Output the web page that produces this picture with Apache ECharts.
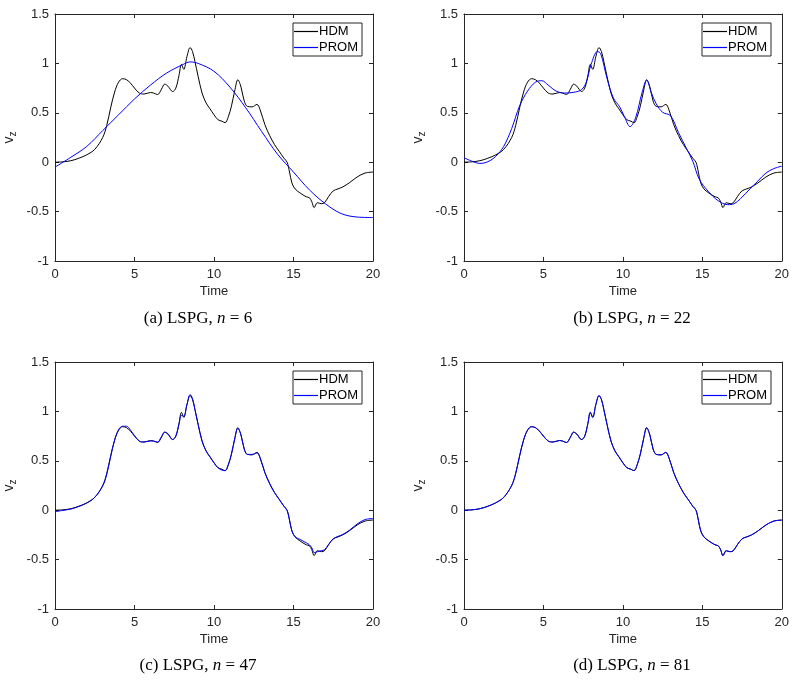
<!DOCTYPE html>
<html>
<head>
<meta charset="utf-8">
<script src="https://cdn.jsdelivr.net/npm/echarts@6/dist/echarts.min.js"></script>
<style>
html,body{margin:0;padding:0;background:#fff;}
#chart{width:792px;height:682px;}
</style>
</head>
<body>
<div id="chart"></div>
<script>
// ---- data ----
const xTicks = [0, 5, 10, 15, 20];
const yTicks = [-1, -0.5, 0, 0.5, 1, 1.5];
const seriesNames = ['HDM', 'PROM'];
const captionLetters = ['(a)', '(b)', '(c)', '(d)'];
const captionN = [6, 22, 47, 81];

// HDM reference trajectory (same in every panel)
const hdmTime = [0, 0.5, 1.0, 1.5, 2.0, 2.5, 3.0, 3.25, 3.5, 3.75, 4.0, 4.25, 4.5, 4.75, 5.0, 5.3, 5.6, 6.0, 6.2, 6.45, 6.7, 6.9, 7.1, 7.4, 7.6, 7.8, 7.95, 8.1, 8.3, 8.5, 8.65, 8.8, 9.0, 9.25, 9.5, 9.75, 10.0, 10.25, 10.5, 10.7, 10.9, 11.1, 11.3, 11.5, 11.7, 11.9, 12.1, 12.4, 12.7, 12.9, 13.2, 13.5, 13.8, 14.1, 14.4, 14.6, 14.75, 14.9, 15.1, 15.4, 15.8, 16.0, 16.15, 16.3, 16.5, 16.75, 16.95, 17.2, 17.5, 17.8, 18.1, 18.5, 19.0, 19.5, 20.0];
const hdmValues = [0, 0.004, 0.015, 0.04, 0.075, 0.13, 0.25, 0.37, 0.55, 0.71, 0.81, 0.845, 0.835, 0.80, 0.75, 0.70, 0.69, 0.705, 0.70, 0.685, 0.74, 0.79, 0.77, 0.715, 0.75, 0.88, 0.99, 0.94, 1.07, 1.16, 1.12, 1.02, 0.87, 0.70, 0.60, 0.54, 0.48, 0.43, 0.415, 0.40, 0.46, 0.57, 0.72, 0.835, 0.76, 0.62, 0.565, 0.56, 0.585, 0.53, 0.38, 0.27, 0.18, 0.11, 0.04, 0.0, -0.10, -0.21, -0.27, -0.31, -0.35, -0.36, -0.40, -0.46, -0.41, -0.42, -0.41, -0.35, -0.29, -0.27, -0.25, -0.21, -0.15, -0.11, -0.10];

// PROM, n = 6
const promATime = [0, 1, 2, 3, 4, 5, 6, 7, 8, 8.5, 9, 10, 11, 12, 13, 14, 15, 16, 17, 18, 19, 20];
const promAValues = [-0.05, 0.05, 0.16, 0.32, 0.48, 0.64, 0.78, 0.90, 0.985, 1.015, 1.0, 0.92, 0.76, 0.55, 0.31, 0.08, -0.10, -0.28, -0.42, -0.52, -0.555, -0.56];

// PROM, n = 22
const promBTime = [0, 0.5, 1.0, 1.5, 2.0, 2.5, 3.0, 3.5, 4.0, 4.5, 4.9, 5.3, 5.8, 6.35, 7.0, 7.4, 7.7, 8.0, 8.4, 8.6, 9.0, 9.4, 9.8, 10.1, 10.45, 10.8, 11.2, 11.5, 11.8, 12.1, 12.5, 13.0, 13.5, 14.0, 14.4, 14.8, 15.4, 16.0, 16.6, 17.0, 17.4, 18.0, 18.5, 19.0, 19.5, 20.0];
const promBValues = [0.045, 0.01, -0.012, 0.005, 0.06, 0.16, 0.34, 0.57, 0.72, 0.81, 0.825, 0.78, 0.72, 0.70, 0.71, 0.735, 0.81, 0.99, 1.12, 1.10, 0.85, 0.65, 0.56, 0.46, 0.36, 0.45, 0.70, 0.83, 0.70, 0.59, 0.505, 0.47, 0.30, 0.14, 0.01, -0.17, -0.30, -0.39, -0.43, -0.42, -0.37, -0.27, -0.19, -0.11, -0.065, -0.04];

// PROM, n = 47
const promCTime = hdmTime;
const promCValues = [-0.015, -0.002, 0.012, 0.038, 0.072, 0.13, 0.245, 0.36, 0.54, 0.71, 0.815, 0.85, 0.85, 0.81, 0.755, 0.70, 0.69, 0.70, 0.70, 0.69, 0.745, 0.79, 0.775, 0.715, 0.75, 0.87, 0.96, 0.95, 1.07, 1.17, 1.13, 1.02, 0.87, 0.70, 0.60, 0.54, 0.48, 0.43, 0.405, 0.40, 0.46, 0.57, 0.72, 0.83, 0.76, 0.62, 0.565, 0.565, 0.58, 0.53, 0.38, 0.27, 0.18, 0.11, 0.04, -0.005, -0.10, -0.21, -0.27, -0.295, -0.33, -0.35, -0.38, -0.43, -0.42, -0.41, -0.40, -0.35, -0.29, -0.265, -0.245, -0.205, -0.14, -0.095, -0.085];

// PROM, n = 81
const promDTime = hdmTime;
const promDValues = [0, 0.004, 0.015, 0.04, 0.075, 0.13, 0.25, 0.37, 0.55, 0.71, 0.81, 0.845, 0.835, 0.80, 0.75, 0.70, 0.69, 0.705, 0.70, 0.685, 0.74, 0.79, 0.77, 0.715, 0.75, 0.88, 0.99, 0.94, 1.07, 1.16, 1.12, 1.02, 0.87, 0.70, 0.60, 0.54, 0.48, 0.43, 0.415, 0.40, 0.46, 0.57, 0.72, 0.835, 0.76, 0.62, 0.565, 0.56, 0.585, 0.53, 0.38, 0.27, 0.18, 0.11, 0.04, 0.0, -0.10, -0.21, -0.27, -0.31, -0.35, -0.36, -0.40, -0.46, -0.41, -0.42, -0.41, -0.35, -0.29, -0.27, -0.25, -0.21, -0.15, -0.11, -0.10];

const promTimes = [promATime, promBTime, promCTime, promDTime];
const promValues = [promAValues, promBValues, promCValues, promDValues];

// ---- layout ----
const grids = [
  {left: 55, top: 14, width: 318, height: 247},
  {left: 464, top: 14, width: 318, height: 247},
  {left: 55, top: 362, width: 318, height: 247},
  {left: 464, top: 362, width: 318, height: 247}
];
const legendPos = [
  {left: 293, top: 23}, {left: 702, top: 23},
  {left: 293, top: 371}, {left: 702, top: 371}
];
const captionPos = [[198, 319], [632, 319], [198, 666], [632, 666]];

const AX = '#262626';
const FONT = '"Liberation Sans", Arial, Helvetica, sans-serif';

function zip(t, v) { return t.map((x, i) => [x, v[i]]); }

const xAxes = [], yAxes = [], series = [], legends = [], graphics = [];
grids.forEach((g, i) => {
  const common = {
    gridIndex: i, type: 'value',
    axisLine: {show: true, onZero: false, lineStyle: {color: AX, width: 1}},
    axisTick: {show: true, inside: true, length: 4, lineStyle: {color: AX, width: 1}},
    splitLine: {show: false}
  };
  xAxes.push(Object.assign({}, common, {
    position: 'bottom', min: xTicks[0], max: xTicks[xTicks.length - 1], interval: 5,
    axisLabel: {show: true, color: AX, fontSize: 13, fontFamily: FONT, margin: 7},
    name: 'Time', nameLocation: 'middle', nameGap: 24,
    nameTextStyle: {color: AX, fontSize: 13, fontFamily: FONT}
  }));
  xAxes.push(Object.assign({}, common, {
    position: 'top', min: xTicks[0], max: xTicks[xTicks.length - 1], interval: 5,
    axisLabel: {show: false}
  }));
  yAxes.push(Object.assign({}, common, {
    position: 'left', min: yTicks[0], max: yTicks[yTicks.length - 1], interval: 0.5,
    axisLabel: {show: true, color: AX, fontSize: 13, fontFamily: FONT, margin: 6},
    name: '{v|v}{z|z}', nameLocation: 'middle', nameRotate: 90, nameGap: 37,
    nameTextStyle: {
      color: AX, fontFamily: FONT,
      rich: {
        v: {fontSize: 14, color: AX, fontFamily: FONT},
        z: {fontSize: 10, color: AX, fontFamily: FONT, padding: [7, 0, 0, 0]}
      }
    }
  }));
  yAxes.push(Object.assign({}, common, {
    position: 'right', min: yTicks[0], max: yTicks[yTicks.length - 1], interval: 0.5,
    axisLabel: {show: false}
  }));

  series.push({
    name: seriesNames[0], type: 'line', xAxisIndex: 2 * i, yAxisIndex: 2 * i,
    data: zip(hdmTime, hdmValues), symbol: 'none', showSymbol: false, smooth: 0.35,
    lineStyle: {color: '#000000', width: 1}, itemStyle: {color: '#000000'}, silent: true, animation: false
  });
  series.push({
    name: seriesNames[1], type: 'line', xAxisIndex: 2 * i, yAxisIndex: 2 * i,
    data: zip(promTimes[i], promValues[i]), symbol: 'none', showSymbol: false, smooth: 0.35,
    lineStyle: {color: '#0000ff', width: 1}, itemStyle: {color: '#0000ff'}, silent: true, animation: false
  });

  legends.push({
    orient: 'vertical', left: legendPos[i].left, top: legendPos[i].top,
    data: seriesNames, selectedMode: false,
    icon: 'rect', itemWidth: 24, itemHeight: 1.2, itemGap: 3,
    padding: [2, 4, 2, 1],
    borderColor: AX, borderWidth: 1, backgroundColor: '#ffffff',
    textStyle: {color: '#000', fontSize: 13, fontFamily: FONT, padding: [0, 0, 0, -4]}
  });

  graphics.push({
    type: 'text', x: captionPos[i][0], y: captionPos[i][1],
    style: {
      text: captionLetters[i] + ' LSPG, {i|n} = ' + captionN[i],
      fontFamily: '"Liberation Serif", "DejaVu Serif", serif', fontSize: 17, fill: '#000',
      align: 'center', verticalAlign: 'middle',
      rich: {i: {fontStyle: 'italic', fontFamily: '"Liberation Serif", serif', fontSize: 17}}
    }
  });
});

const chart = echarts.init(document.getElementById('chart'), null, {renderer: 'canvas'});
chart.setOption({
  animation: false,
  backgroundColor: '#ffffff',
  grid: grids,
  xAxis: xAxes,
  yAxis: yAxes,
  legend: legends,
  series: series,
  graphic: graphics
});
</script>
</body>
</html>
